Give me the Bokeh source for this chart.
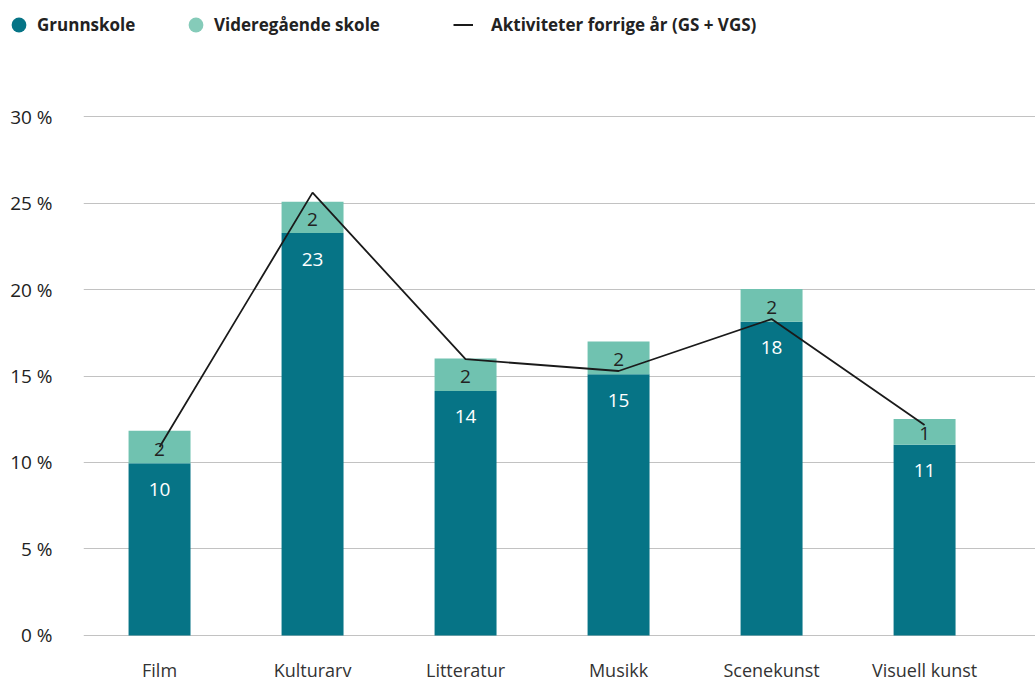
from bokeh.plotting import figure
from bokeh.layouts import column
from bokeh.models import ColumnDataSource, Range1d, FixedTicker, Legend, LegendItem, PrintfTickFormatter
from bokeh.core.properties import value
from bokeh.embed import file_html
from bokeh.resources import INLINE

categories = ["Film", "Kulturarv", "Litteratur", "Musikk", "Scenekunst", "Visuell kunst"]
grunnskole = [9.95, 23.26, 14.14, 15.10, 18.14, 11.03]
videregaende = [1.88, 1.81, 1.87, 1.89, 1.89, 1.49]
forrige_aar = [10.9, 25.6, 15.97, 15.29, 18.29, 12.17]
y_ticks = [0, 5, 10, 15, 20, 25, 30]

DARK = "#067486"
LIGHT = "#70c2b0"
LIGHT_LEG = "#85cbb9"
INK = "#222222"
FONT = "Open Sans"

xpos = list(range(len(categories)))
src = ColumnDataSource(dict(
    x=xpos, gs=grunnskole, vgs=videregaende,
    top=[g + v for g, v in zip(grunnskole, videregaende)],
    mid=[g + v / 2 for g, v in zip(grunnskole, videregaende)],
    gs_lab=[str(int(round(g))) for g in grunnskole],
    vgs_lab=[str(int(round(v))) for v in videregaende],
    prev=forrige_aar,
))

# ---------------- legend strip ----------------
# proxy renderers share the data source; the strip's ranges keep them out of view
leg = figure(width=1035, height=50, output_backend="svg", toolbar_location=None,
             x_axis_type=None, y_axis_type=None, min_border=0,
             x_range=Range1d(100, 101), y_range=Range1d(100, 101))
leg.frame_align = False
leg.outline_line_color = None
leg.xgrid.visible = False
leg.ygrid.visible = False
leg.title.visible = False
r_gs = leg.scatter(x="x", y="gs", source=src, marker="circle", fill_color=DARK, line_color=None)
r_vgs = leg.scatter(x="x", y="vgs", source=src, marker="circle", fill_color=LIGHT_LEG, line_color=None)
r_line = leg.line(x="x", y="prev", source=src, line_color="#1a1a1a", line_width=2)


def add_legend(label, rend, loc, gw, standoff):
    lg = Legend(items=[LegendItem(label=label, renderers=[rend])], location=loc,
                orientation="horizontal", glyph_width=gw, glyph_height=37,
                label_height=37, label_standoff=standoff, padding=0, margin=0,
                spacing=0, border_line_color=None, background_fill_alpha=0,
                label_text_font=FONT, label_text_font_style="bold",
                label_text_font_size="17px", label_text_color=INK)
    leg.add_layout(lg, "center")


add_legend("Grunnskole", r_gs, (0, 7), 37, 0)
add_legend("Videregående skole", r_vgs, (177, 7), 37, 0)
add_legend("Aktiviteter forrige år (GS + VGS)", r_line, (453, 7), 20, 18)

# ---------------- main chart ----------------
p = figure(width=1035, height=634, output_backend="svg", toolbar_location=None,
           x_range=Range1d(-0.497, 5.725), y_range=Range1d(-0.06, 30.06),
           min_border_left=83, min_border_right=0, min_border_top=65, min_border_bottom=46)
p.frame_align = False
p.outline_line_color = None
p.title.visible = False

p.xgrid.grid_line_color = None
p.ygrid.grid_line_color = "#c2c2c2"
p.ygrid.grid_line_width = 1
p.ygrid.ticker = FixedTicker(ticks=y_ticks)

p.yaxis.ticker = FixedTicker(ticks=y_ticks)
p.yaxis.formatter = PrintfTickFormatter(format="%d %%")
p.yaxis.axis_line_color = None
p.yaxis.major_tick_line_color = None
p.yaxis.minor_tick_line_color = None
p.yaxis.major_tick_out = 0
p.yaxis.major_tick_in = 0
p.yaxis.minor_tick_out = 0
p.yaxis.major_label_standoff = 31
p.yaxis.major_label_text_font = FONT
p.yaxis.major_label_text_font_size = "19px"
p.yaxis.major_label_text_color = INK

p.xaxis.ticker = FixedTicker(ticks=xpos)
p.xaxis.major_label_overrides = {i: c for i, c in zip(xpos, categories)}
p.xaxis.axis_line_color = None
p.xaxis.major_tick_line_color = None
p.xaxis.minor_tick_line_color = None
p.xaxis.major_tick_out = 0
p.xaxis.major_tick_in = 0
p.xaxis.minor_tick_out = 0
p.xaxis.major_label_standoff = 21
p.xaxis.major_label_text_font = FONT
p.xaxis.major_label_text_font_size = "18px"
p.xaxis.major_label_text_color = "#333333"

p.vbar(x="x", top="gs", bottom=0, width=0.405, source=src, fill_color=DARK, line_color=None)
p.vbar(x="x", top="top", bottom="gs", width=0.405, source=src, fill_color=LIGHT, line_color=None)

p.line(x="x", y="prev", source=src, line_color="#1a1a1a", line_width=1.8)

p.text(x="x", y="gs", text="gs_lab", source=src, y_offset=26, text_align="center",
       text_baseline="middle", text_color="white", text_font=value(FONT),
       text_font_size="19px")
p.text(x="x", y="mid", text="vgs_lab", source=src, y_offset=2, text_align="center",
       text_baseline="middle", text_color=INK, text_font=value(FONT),
       text_font_size="19px")

layout = column(leg, p, spacing=0)
open("out.html", "w").write(file_html(layout, INLINE))
